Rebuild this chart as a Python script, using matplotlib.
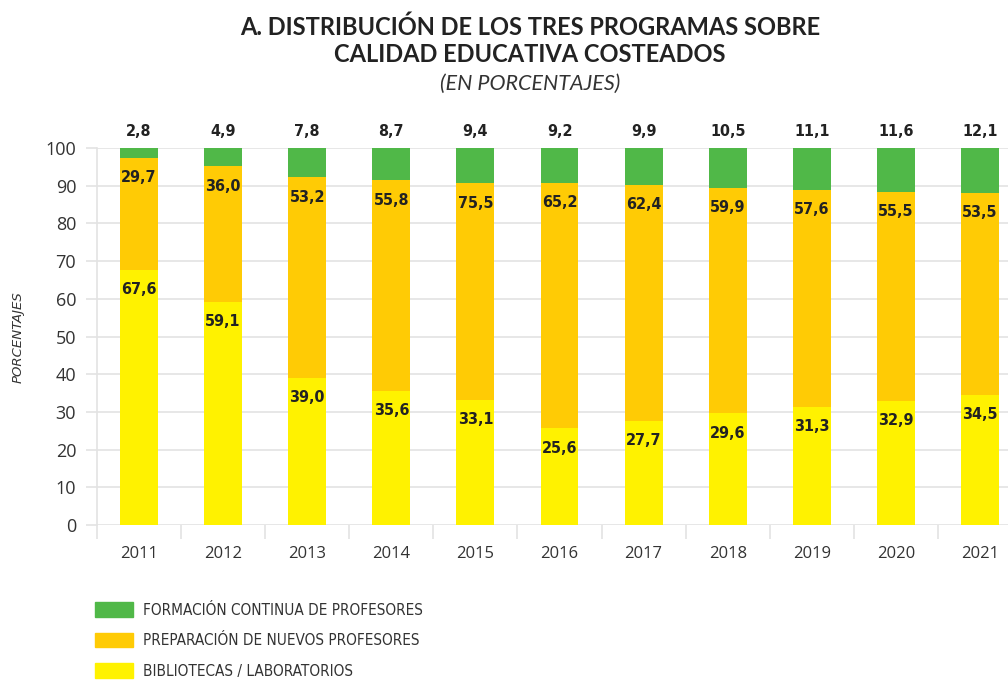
import matplotlib
matplotlib.use("Agg")
import matplotlib.pyplot as plt
from matplotlib.patches import Patch
import numpy as np

# values as printed on the chart
years = ["2011", "2012", "2013", "2014", "2015", "2016", "2017", "2018", "2019", "2020", "2021"]
yellow = [67.6, 59.1, 39.0, 35.6, 33.1, 25.6, 27.7, 29.6, 31.3, 32.9, 34.5]
# 2015 bar is drawn at 57.5 although its label reads 75,5
orange = [29.7, 36.0, 53.2, 55.8, 57.5, 65.2, 62.4, 59.9, 57.6, 55.5, 53.5]
orange_labels = ["29,7", "36,0", "53,2", "55,8", "75,5", "65,2", "62,4", "59,9", "57,6", "55,5", "53,5"]
green = [2.8, 4.9, 7.8, 8.7, 9.4, 9.2, 9.9, 10.5, 11.1, 11.6, 12.1]

series_names = ["FORMACIÓN CONTINUA DE PROFESORES",
                "PREPARACIÓN DE NUEVOS PROFESORES",
                "BIBLIOTECAS / LABORATORIOS"]

c_green = "#50b848"
c_orange = "#ffcb05"
c_yellow = "#fff200"
grid_c = "#e3e3e3"
txt_c = "#333333"

cond = dict(family="DejaVu Sans", stretch="condensed")

fig = plt.figure(figsize=(10.08, 6.8), dpi=100)
ax = fig.add_axes([97 / 1008, 1 - 525 / 680, 1 - 97 / 1008, (525 - 148) / 680])

x = np.arange(len(years))
w = 0.45
yel = np.array(yellow)
ora = np.array(orange)
gre = np.array(green)

ax.bar(x, yel, w, color=c_yellow, zorder=2)
ax.bar(x, ora, w, bottom=yel, color=c_orange, zorder=2)
ax.bar(x, gre, w, bottom=yel + ora, color=c_green, zorder=2)

lab = dict(ha="center", va="center", fontsize=11.5, fontweight="bold", color="#222222", **cond)
for i in range(len(years)):
    ax.text(x[i], yel[i] - 5.2, f"{yellow[i]:.1f}".replace(".", ","), zorder=3, **lab)
    ax.text(x[i], yel[i] + ora[i] - 5.2, orange_labels[i], zorder=3, **lab)
    ax.text(x[i], 104.5, f"{green[i]:.1f}".replace(".", ","), clip_on=False, **lab)

ax.set_xlim(-0.5, (1008 - 140) / 84)
ax.set_ylim(0, 100)
ax.set_yticks(range(0, 101, 10))
ax.yaxis.grid(True, color=grid_c, lw=1.2, zorder=0)
ax.tick_params(axis="y", length=8, color=grid_c, width=1.2, pad=7, labelsize=13, labelcolor=txt_c)
ax.set_xticks(x)
ax.set_xticklabels(years)
ax.set_xticks(np.arange(-0.5, len(years) - 0.5, 1), minor=True)
ax.tick_params(axis="x", which="major", length=0, pad=15, labelsize=12, labelcolor=txt_c)
ax.tick_params(axis="x", which="minor", length=10, color=grid_c, width=1.2)
for lbl in ax.get_xticklabels() + ax.get_yticklabels():
    lbl.set_family("Open Sans")
for s in ["top", "right", "bottom"]:
    ax.spines[s].set_visible(False)
ax.spines["left"].set_color(grid_c)
ax.spines["left"].set_linewidth(1.2)
ax.set_axisbelow(True)

fig.text(18 / 1008, 1 - 337 / 680, "PORCENTAJES", rotation=90, ha="center", va="center",
         fontsize=9.5, style="italic", color=txt_c)

fig.text(530 / 1008, 1 - 27 / 680, "A. DISTRIBUCIÓN DE LOS TRES PROGRAMAS SOBRE", ha="center", va="center",
         fontsize=17, fontweight="bold", color="#222222", family="Lato")
fig.text(530 / 1008, 1 - 55 / 680, "CALIDAD EDUCATIVA COSTEADOS", ha="center", va="center",
         fontsize=17, fontweight="bold", color="#222222", family="Lato")
fig.text(530 / 1008, 1 - 84 / 680, "(EN PORCENTAJES)", ha="center", va="center",
         fontsize=15.5, style="italic", color=txt_c, family="Lato")

handles = [Patch(color=c_green), Patch(color=c_orange), Patch(color=c_yellow)]
fig.legend(handles, series_names, loc="upper left", bbox_to_anchor=(95 / 1008, 1 - 602 / 680),
           frameon=False, borderpad=0, borderaxespad=0, handlelength=2.5, handleheight=1.1,
           labelspacing=0.98, handletextpad=0.65,
           prop={"family": "DejaVu Sans", "stretch": "condensed", "size": 11}, labelcolor=txt_c)

fig.savefig("out.png", dpi=100)
